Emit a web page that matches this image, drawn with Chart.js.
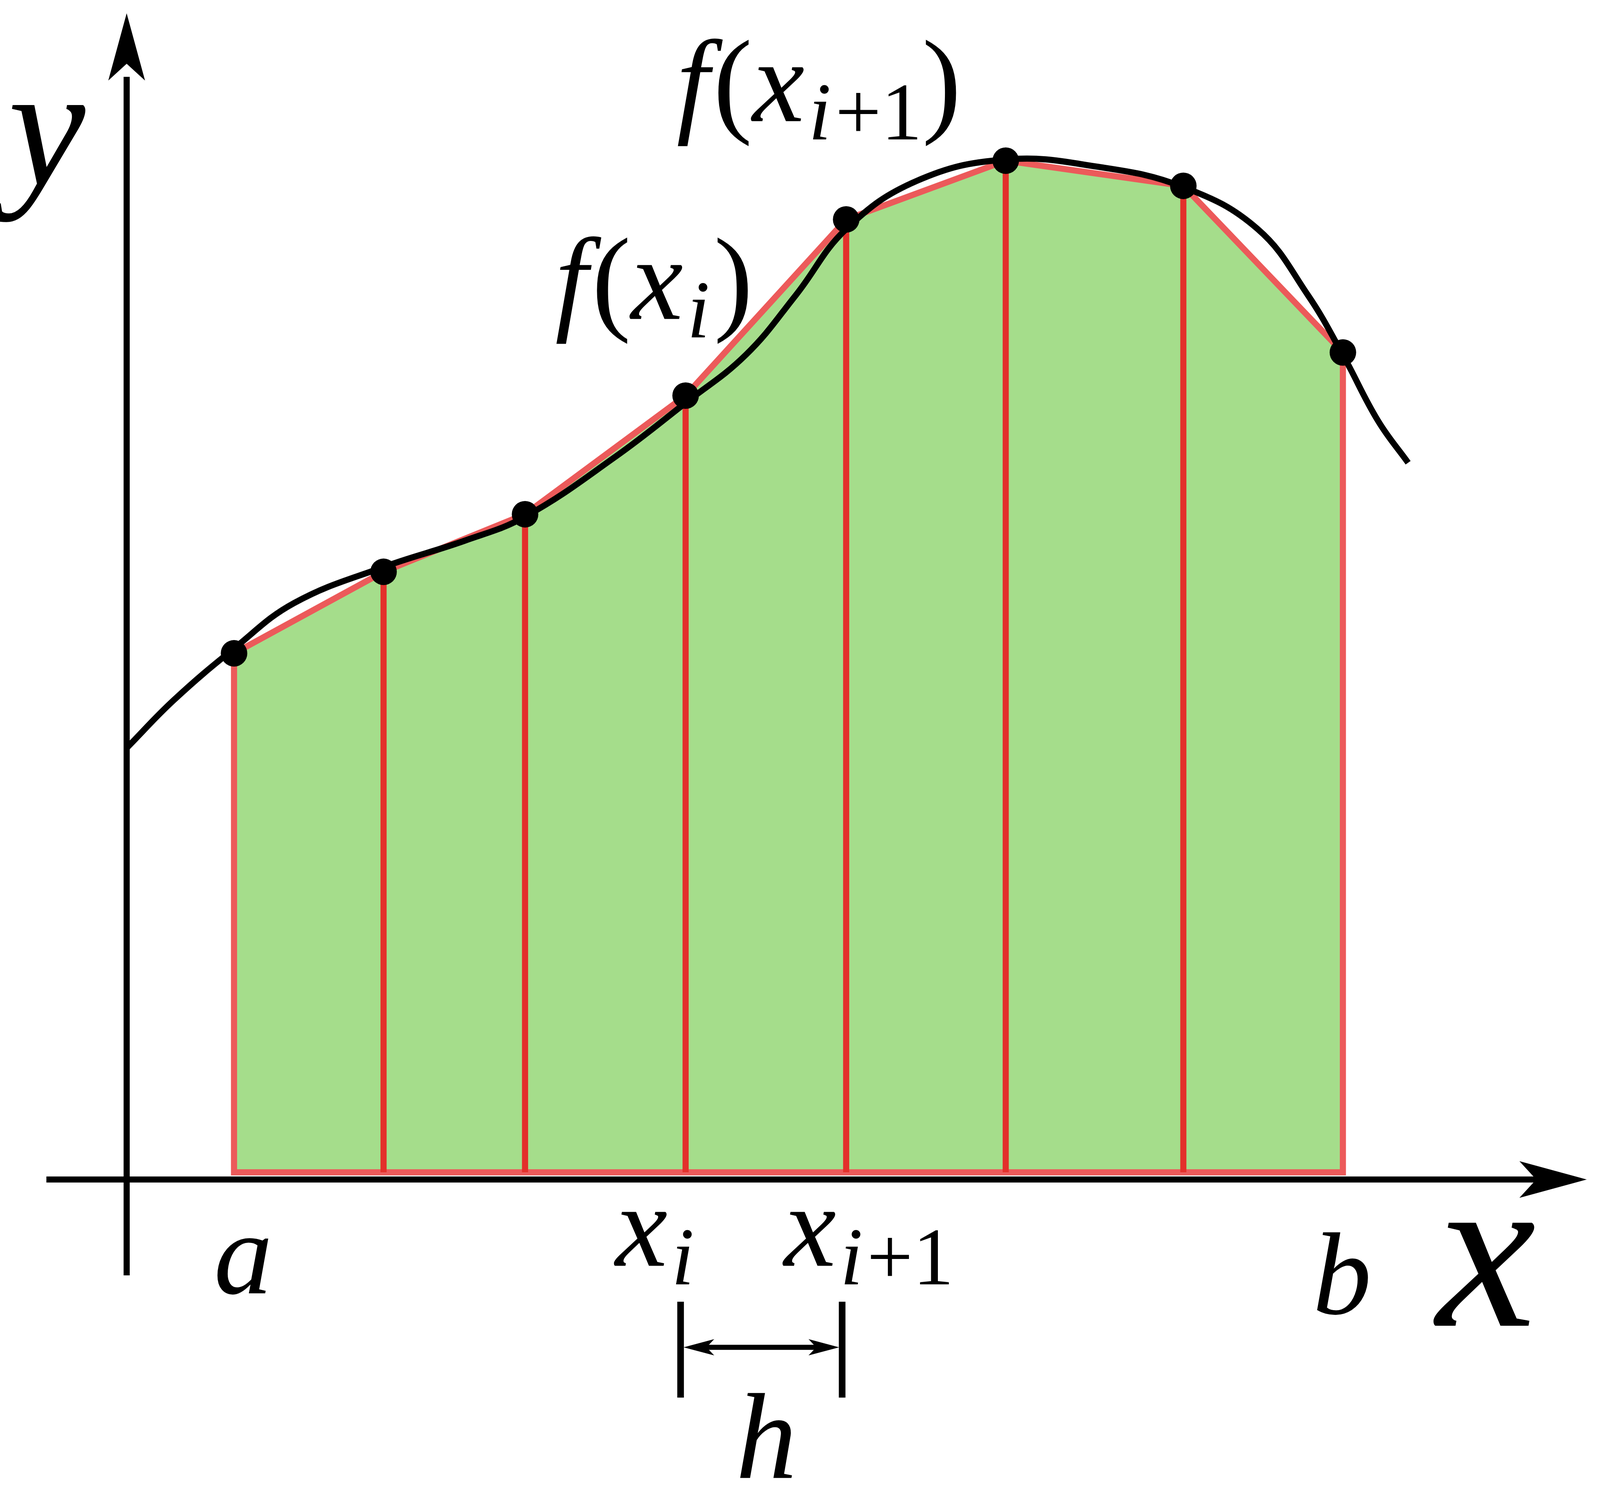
<!DOCTYPE html>
<html><head><meta charset="utf-8">
<script src="https://cdn.jsdelivr.net/npm/chart.js@4"></script>
<style>html,body{margin:0;padding:0;background:#fff;overflow:hidden}#wrap{width:100vw;height:100vh;position:relative}</style>
</head><body>
<div id="wrap"><canvas id="c"></canvas></div>
<script>
// units: reference pixels at 1568 wide, origin at the axes crossing
const S = window.innerWidth / 1568;
const curveX = [0, 47, 107, 167, 256, 337, 397, 487, 557, 617, 667, 717, 787, 876, 967, 1053, 1127, 1177, 1212, 1247, 1277];
const curveY = [360, 400, 443, 481, 511, 533, 553, 603, 648, 688, 738, 793, 833, 851, 845, 828, 793, 738, 688, 633, 598];
const nodeX = [107, 256, 397, 557, 717, 876, 1053, 1212];
const nodeY = [439, 507, 555, 654, 801, 850, 829, 690];
const baseY = 6;

const trap = nodeX.map((x, i) => ({ x, y: nodeY[i] }));
trap.push({ x: nodeX[nodeX.length - 1], y: baseY }, { x: nodeX[0], y: baseY }, { x: nodeX[0], y: nodeY[0] });
const verticals = [];
nodeX.slice(1, -1).forEach((x, i) => {
  verticals.push({ x, y: baseY }, { x, y: nodeY[i + 1] }, { x, y: null });
});

const overlay = {
  id: "overlay",
  afterDatasetsDraw(chart) {
    const ctx = chart.ctx;
    const sx = chart.scales.x, sy = chart.scales.y;
    const X = (v) => sx.getPixelForValue(v), Y = (v) => sy.getPixelForValue(v);
    ctx.save();
    ctx.strokeStyle = "#000"; ctx.fillStyle = "#000";
    ctx.lineWidth = 6 * S; ctx.lineCap = "butt";
    function arrow(x, y, dir, len, wid) {
      ctx.beginPath();
      if (dir === "up") { ctx.moveTo(x, y); ctx.lineTo(x - wid, y + len); ctx.lineTo(x, y + len * 0.75); ctx.lineTo(x + wid, y + len); }
      else if (dir === "right") { ctx.moveTo(x, y); ctx.lineTo(x - len, y - wid); ctx.lineTo(x - len * 0.75, y); ctx.lineTo(x - len, y + wid); }
      else { ctx.moveTo(x, y); ctx.lineTo(x + len, y - wid); ctx.lineTo(x + len * 0.75, y); ctx.lineTo(x + len, y + wid); }
      ctx.closePath(); ctx.fill();
    }
    // y axis
    ctx.beginPath(); ctx.moveTo(X(0), Y(-80)); ctx.lineTo(X(0), Y(920)); ctx.stroke();
    arrow(X(0), Y(973), "up", 66 * S, 18 * S);
    // x axis
    ctx.beginPath(); ctx.moveTo(X(-80), Y(0)); ctx.lineTo(X(1405), Y(0)); ctx.stroke();
    arrow(X(1455), Y(0), "right", 66 * S, 18 * S);
    // h bracket
    ctx.lineWidth = 6.5 * S;
    [552, 713].forEach((x) => { ctx.beginPath(); ctx.moveTo(X(x), Y(-102)); ctx.lineTo(X(x), Y(-182)); ctx.stroke(); });
    ctx.lineWidth = 5 * S;
    ctx.beginPath(); ctx.moveTo(X(575), Y(-140)); ctx.lineTo(X(690), Y(-140)); ctx.stroke();
    arrow(X(555), Y(-140), "left", 30 * S, 8 * S);
    arrow(X(710), Y(-140), "right", 30 * S, 8 * S);
    // labels
    function math(parts, x, y) {
      let px = X(x);
      parts.forEach(([t, it, size, dy]) => {
        ctx.font = (it ? "italic " : "") + size * S + "px 'Liberation Serif', 'DejaVu Serif', serif";
        ctx.fillText(t, px, Y(y) + (dy || 0) * S);
        px += ctx.measureText(t).width + (it ? 4 * S : 0);
      });
    }
    ctx.textBaseline = "alphabetic"; ctx.textAlign = "left";
    math([["y", true, 170]], -118, 830);
    math([["x", true, 220]], 1305, -122);
    math([["a", true, 115]], 87, -95);
    math([["b", true, 115]], 1182, -112);
    math([["x", true, 115], ["i", true, 80, 18]], 487, -72);
    math([["x", true, 115], ["i", true, 80, 18], ["+1", false, 80, 18]], 655, -72);
    math([["h", true, 120]], 607, -249);
    math([["f", true, 115], ["(", false, 115], ["x", true, 115], ["i", true, 80, 18], [")", false, 115]], 427, 718);
    math([["f", true, 115], ["(", false, 115], ["x", true, 115], ["i", true, 80, 18], ["+1", false, 80, 18], [")", false, 115]], 548, 883);
    ctx.restore();
  },
};

new Chart(document.getElementById("c"), {
  type: "scatter",
  data: {
    datasets: [
      { data: trap, showLine: true, fill: "shape", backgroundColor: "#a5dd8b", borderColor: "#ec5a5a", borderWidth: 6 * S, pointRadius: 0, tension: 0, order: 4 },
      { data: verticals, showLine: true, spanGaps: false, borderColor: "#e3302b", borderWidth: 6 * S, pointRadius: 0, order: 3 },
      { data: curveX.map((x, i) => ({ x, y: curveY[i] })), showLine: true, borderColor: "#000", borderWidth: 6 * S, pointRadius: 0, tension: 0.4, order: 2 },
      { data: nodeX.map((x, i) => ({ x, y: nodeY[i] })), pointRadius: 13 * S, backgroundColor: "#000", borderWidth: 0, order: 1 },
    ],
  },
  options: {
    responsive: true, maintainAspectRatio: false, animation: false,
    layout: { padding: 0 },
    plugins: { legend: { display: false }, tooltip: { enabled: false } },
    scales: {
      x: { type: "linear", min: -113, max: 1455, display: false },
      y: { type: "linear", min: -253, max: 973, display: false },
    },
  },
  plugins: [overlay],
});
</script>
</body></html>
